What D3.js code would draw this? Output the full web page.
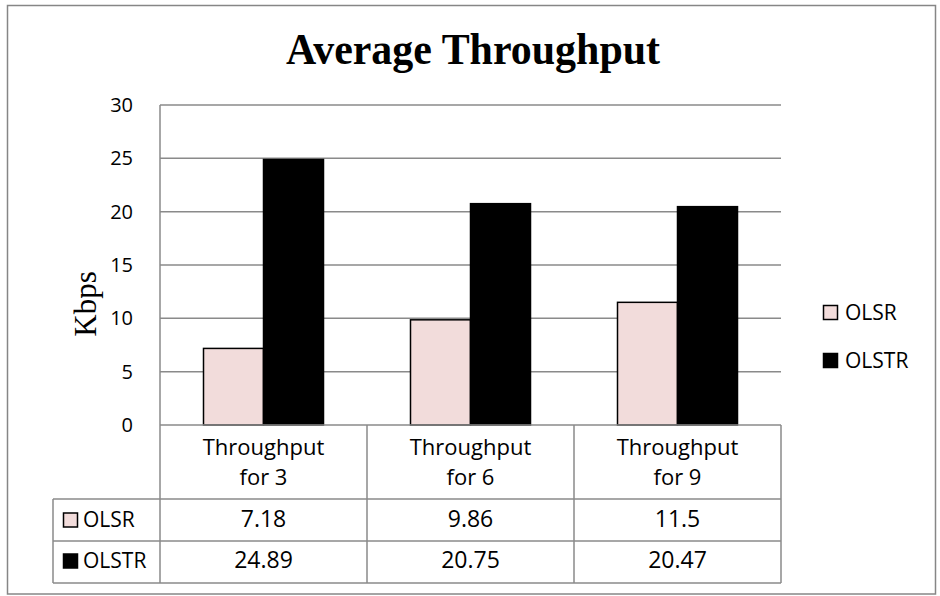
<!DOCTYPE html>
<html>
<head>
<meta charset="utf-8">
<script src="https://cdn.jsdelivr.net/npm/d3@7/dist/d3.min.js"></script>
<style>
  html, body { margin: 0; padding: 0; background: #fff; }
  svg { display: block; }
</style>
</head>
<body>
<svg id="chart" width="940" height="596"></svg>
<script>
// Chart data
const categories = ["Throughput for 3", "Throughput for 6", "Throughput for 9"];
const seriesNames = ["OLSR", "OLSTR"];
const olsrValues = [7.18, 9.86, 11.5];
const olstrValues = [24.89, 20.75, 20.47];
const yTicks = [0, 5, 10, 15, 20, 25, 30];

const seriesValues = [olsrValues, olstrValues];
const seriesFill = { OLSR: "#f2dcdb", OLSTR: "#000000" };
const seriesStroke = { OLSR: "#000000", OLSTR: "#000000" };

const svg = d3.select("#chart");
const gridColor = "#8a8a8a";
const sansFont = "'Open Sans', 'Liberation Sans', sans-serif";
const serifFont = "'Liberation Serif', 'DejaVu Serif', serif";

// Outer frame
svg.append("rect")
  .attr("x", 7.5).attr("y", 5.5)
  .attr("width", 928).attr("height", 588.5)
  .attr("fill", "#fff").attr("stroke", "#868686").attr("stroke-width", 1.5);

// Plot area geometry
const plot = { left: 160, right: 781, top: 105, bottom: 425 };

const y = d3.scaleLinear().domain([0, 30]).range([plot.bottom, plot.top]);
const x0 = d3.scaleBand().domain(categories).range([plot.left, plot.right]).padding(0);
const groupInset = 43.5;
const x1 = d3.scaleBand().domain(seriesNames)
  .range([groupInset, x0.bandwidth() - groupInset]).padding(0);

// Title
svg.append("text")
  .attr("x", 473).attr("y", 64)
  .attr("text-anchor", "middle")
  .attr("font-family", serifFont)
  .attr("font-weight", "bold")
  .attr("font-size", 45)
  .attr("textLength", 374)
  .attr("lengthAdjust", "spacingAndGlyphs")
  .text("Average Throughput");

// Horizontal gridlines
svg.append("g")
  .selectAll("line")
  .data(yTicks.filter(d => d !== 0))
  .join("line")
  .attr("x1", plot.left).attr("x2", plot.right)
  .attr("y1", d => y(d)).attr("y2", d => y(d))
  .attr("stroke", gridColor).attr("stroke-width", 1.5);

// Y axis tick labels
const yAxis = d3.axisLeft(y).tickValues(yTicks).tickSize(0).tickPadding(27);
const gy = svg.append("g")
  .attr("transform", `translate(${plot.left},0)`)
  .call(yAxis);
gy.select(".domain").remove();
gy.selectAll("text")
  .attr("font-family", sansFont)
  .attr("font-size", 20)
  .attr("fill", "#000");

// Y axis title
svg.append("text")
  .attr("transform", `translate(96,${(plot.top + plot.bottom) / 2 + 39}) rotate(-90)`)
  .attr("text-anchor", "middle")
  .attr("font-family", serifFont)
  .attr("font-size", 31)
  .text("Kbps");

// Bars
const groups = svg.append("g")
  .selectAll("g")
  .data(categories)
  .join("g")
  .attr("transform", d => `translate(${x0(d)},0)`);

groups.selectAll("rect")
  .data((d, i) => seriesNames.map((s, k) => ({ series: s, value: seriesValues[k][i] })))
  .join("rect")
  .attr("x", d => x1(d.series))
  .attr("width", x1.bandwidth())
  .attr("y", d => y(d.value))
  .attr("height", d => y(0) - y(d.value))
  .attr("fill", d => seriesFill[d.series])
  .attr("stroke", d => seriesStroke[d.series])
  .attr("stroke-width", 1.5);

// Side legend
const legend = svg.append("g");
const legendY = [312, 360];
seriesNames.forEach((s, k) => {
  legend.append("rect")
    .attr("x", 823.5).attr("y", legendY[k] - 6.5)
    .attr("width", 14).attr("height", 14)
    .attr("fill", seriesFill[s])
    .attr("stroke", seriesStroke[s]).attr("stroke-width", 1.5);
  legend.append("text")
    .attr("x", 845).attr("y", legendY[k] + 7.5)
    .attr("font-family", sansFont)
    .attr("font-size", 21)
    .text(s);
});

// Data table below the plot
const table = { keyLeft: 53, headerBottom: 499, rowBottoms: [541, 583] };
const tg = svg.append("g");

// Table grid: horizontal rules
tg.append("line")
  .attr("x1", plot.left).attr("x2", plot.right)
  .attr("y1", plot.bottom).attr("y2", plot.bottom)
  .attr("stroke", gridColor).attr("stroke-width", 1.5);
[table.headerBottom, ...table.rowBottoms].forEach(yy => {
  tg.append("line")
    .attr("x1", table.keyLeft).attr("x2", plot.right)
    .attr("y1", yy).attr("y2", yy)
    .attr("stroke", gridColor).attr("stroke-width", 1.5);
});

// Table grid: vertical rules (including the value axis line)
tg.append("line")
  .attr("x1", plot.left).attr("x2", plot.left)
  .attr("y1", plot.top).attr("y2", table.rowBottoms[1])
  .attr("stroke", gridColor).attr("stroke-width", 1.5);
categories.forEach(c => {
  const xr = x0(c) + x0.bandwidth();
  tg.append("line")
    .attr("x1", xr).attr("x2", xr)
    .attr("y1", plot.bottom).attr("y2", table.rowBottoms[1])
    .attr("stroke", gridColor).attr("stroke-width", 1.5);
});
tg.append("line")
  .attr("x1", table.keyLeft).attr("x2", table.keyLeft)
  .attr("y1", table.headerBottom).attr("y2", table.rowBottoms[1])
  .attr("stroke", gridColor).attr("stroke-width", 1.5);

// Category headers, wrapped onto two lines inside one text element
categories.forEach(c => {
  const cx = x0(c) + x0.bandwidth() / 2;
  const idx = c.indexOf(" for ");
  const lines = [c.slice(0, idx), c.slice(idx + 1)];
  const t = tg.append("text")
    .attr("x", cx).attr("y", 455)
    .attr("text-anchor", "middle")
    .attr("font-family", sansFont)
    .attr("font-size", 22);
  lines.forEach((ln, j) => {
    t.append("tspan")
      .attr("x", cx)
      .attr("dy", j === 0 ? 0 : 30)
      .text(ln);
  });
});

// Value rows with legend keys
const rowBaselines = [527, 568];
seriesNames.forEach((s, k) => {
  tg.append("rect")
    .attr("x", 63.5).attr("y", rowBaselines[k] - 14)
    .attr("width", 14).attr("height", 14)
    .attr("fill", seriesFill[s])
    .attr("stroke", seriesStroke[s]).attr("stroke-width", 1.5);
  tg.append("text")
    .attr("x", 83).attr("y", rowBaselines[k])
    .attr("font-family", sansFont)
    .attr("font-size", 21)
    .text(s);
  categories.forEach((c, i) => {
    tg.append("text")
      .attr("x", x0(c) + x0.bandwidth() / 2)
      .attr("y", rowBaselines[k])
      .attr("text-anchor", "middle")
      .attr("font-family", sansFont)
      .attr("font-size", 23)
      .text(seriesValues[k][i]);
  });
});
</script>
</body>
</html>
